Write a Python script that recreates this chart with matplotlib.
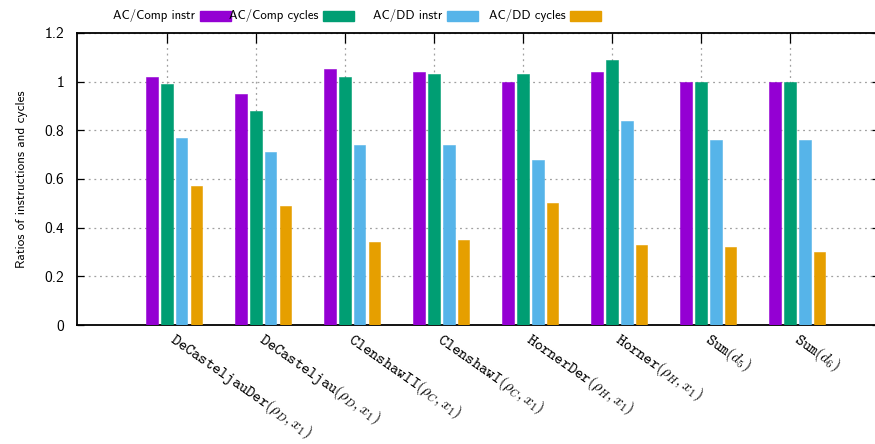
import numpy as np
import matplotlib
matplotlib.use("Agg")
import matplotlib.pyplot as plt
import matplotlib.transforms as mtransforms
from matplotlib.patches import Rectangle

# Données
benchmarks = [
    r"$\mathtt{DeCasteljauDer}(\rho_D, x_1)$",
    r"$\mathtt{DeCasteljau}(\rho_D, x_1)$",
    r"$\mathtt{ClenshawII}(\rho_C, x_1)$",
    r"$\mathtt{ClenshawI}(\rho_C, x_1)$",
    r"$\mathtt{HornerDer}(\rho_H, x_1)$",
    r"$\mathtt{Horner}(\rho_H, x_1)$",
    r"$\mathtt{Sum}(d_5)$",
    r"$\mathtt{Sum}(d_6)$",
]
series_names = ["AC/Comp instr", "AC/Comp cycles", "AC/DD instr", "AC/DD cycles"]
comp_instr = [1.02, 0.95, 1.05, 1.04, 1.00, 1.04, 1.00, 1.00]
comp_cycles = [0.99, 0.88, 1.02, 1.03, 1.03, 1.09, 1.00, 1.00]
dd_instr = [0.77, 0.71, 0.74, 0.74, 0.68, 0.84, 0.76, 0.76]
dd_cycles = [0.57, 0.49, 0.34, 0.35, 0.50, 0.33, 0.32, 0.30]
colors = ["#9400D3", "#009E73", "#56B4E9", "#E69F00"]

yticks = [0, 0.2, 0.4, 0.6, 0.8, 1.0, 1.2]
ytick_labels = ["0", "0.2", "0.4", "0.6", "0.8", "1", "1.2"]

plt.rcParams["mathtext.fontset"] = "cm"
SANS = "cmss10"

W, H = 875, 444
fig = plt.figure(figsize=(W / 100, H / 100), dpi=100)
# axe droit coupé par le bord de l'image (comme l'original)
ax = fig.add_axes([77 / W, (H - 325) / H, 802 / W, 292 / H])

x = np.arange(len(benchmarks))
step = 0.166
width = 0.13
all_series = [comp_instr, comp_cycles, dd_instr, dd_cycles]
for k, vals in enumerate(all_series):
    ax.bar(x + (k - 1) * step, vals, width, color=colors[k],
           edgecolor=colors[k], linewidth=0.4, zorder=3)

ax.set_xlim(-1.01, 8.0)
ax.set_ylim(0, 1.2)
ax.set_yticks(yticks)
ax.set_yticklabels(ytick_labels, fontfamily=SANS, fontsize=11.2)
ax.set_xticks(x)
ax.set_xticklabels([])

# étiquettes inclinées, décalées comme dans l'original
shift = mtransforms.ScaledTranslation(11 / 100, -5 / 100, fig.dpi_scale_trans)
for xi, name in zip(x, benchmarks):
    ax.text(xi, 0, name, rotation=-35, ha="left", va="top",
            rotation_mode="anchor", fontsize=11.3,
            transform=ax.get_xaxis_transform() + shift)

ax.grid(True, color="#a0a0a0", linestyle=(0, (1.5, 3)), linewidth=0.9, zorder=0)
ax.set_axisbelow(True)

ax.tick_params(axis="y", direction="in", length=5, width=0.9, pad=9,
               left=True, right=True)
ax.tick_params(axis="x", direction="in", length=7, width=0.9,
               bottom=False, top=True)
for side in ["left", "top", "bottom"]:
    ax.spines[side].set_linewidth(1.3)
ax.spines["right"].set_visible(False)

ax.set_ylabel("Ratios of instructions and cycles", fontfamily=SANS,
              fontsize=9.5, labelpad=12)

# légende au-dessus du cadre, style gnuplot (texte puis échantillon)
for k, name in enumerate(series_names):
    sw_right = 231 + 123.4 * k
    fig.patches.append(Rectangle(((sw_right - 31) / W, (H - 21) / H), 31 / W, 10 / H,
                                 transform=fig.transFigure, color=colors[k]))
    fig.text((sw_right - 36) / W, (H - 16) / H, name, ha="right", va="center",
             fontfamily=SANS, fontsize=9.2)

fig.savefig("out.png", dpi=100)
